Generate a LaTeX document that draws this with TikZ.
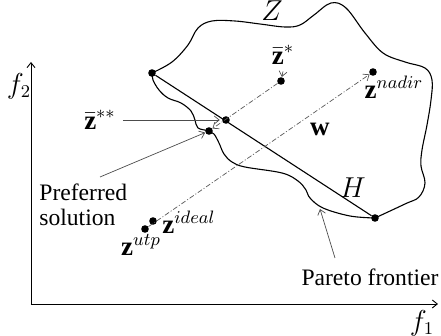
\documentclass[tikz,border=0pt]{standalone}
\usepackage{fontspec}
\setmainfont{Liberation Serif}
\usetikzlibrary{arrows.meta}

\begin{document}
\begin{tikzpicture}[x=0.5pt,y=-0.5pt,
  font=\fontsize{11.8}{12.5}\selectfont,
  mat/.style={font=\fontsize{13.5}{15}\selectfont},
  punto/.style={circle,fill,inner sep=0pt,minimum size=3.8pt},
  borde/.style={line width=0.55pt},
  guia/.style={gray!70!black,line width=0.35pt,
    dash pattern=on 2.5pt off 1pt on 0.5pt off 1pt,
    -{Straight Barb[length=2.5pt,width=4pt]}},
  flecha/.style={gray!60!black,line width=0.35pt,
    -{Straight Barb[length=2.5pt,width=4pt]}}]
\useasboundingbox (0,0) rectangle (441,336);

% Ejes
\coordinate (O) at (31,304);
\coordinate (ejey) at (31,62);
\coordinate (ejex) at (438,304);
\draw[flecha,black,line width=0.45pt] (O) -- (ejey);
\draw[flecha,black,line width=0.45pt] (O) -- (ejex);
\node[mat] (f2) at (19,86) {$f_2$};
\node[mat] (f1) at (422,323) {$f_1$};

% Region Z (borde superior)
\draw[borde,smooth,tension=0.6] plot coordinates {
  (152,73) (172,62) (188,45) (198,28) (212,21) (235,21) (260,24)
  (285,27) (300,25) (314,15) (331,3) (346,8) (365,33) (383,53)
  (405,62) (425,68) (432,80) (431,100) (427,125) (422,150)
  (421,166) (425,183) (419,197) (405,204) (375,218)};

% Frontera de Pareto
\draw[borde,smooth,tension=0.6] plot coordinates {
  (375,218) (350,216) (323,208) (310,198) (306,190) (298,181)
  (282,173) (245,167) (232,162) (224,154) (219,143) (214,134)
  (209,131) (198,128) (195,120) (191,111) (181,103) (168,98)
  (159,90) (153,80) (152,73)};

% Puntos
\node[punto] (A) at (152,73) {};
\node[punto] (B) at (375,218) {};
\node[punto] (Hpt) at (226,120) {};
\node[punto] (P) at (209,131) {};
\node[punto] (zs) at (281,81) {};
\node[punto] (nadir) at (373,72) {};
\node[punto] (ideal) at (153,221) {};
\node[punto] (utp) at (145,229) {};

% Hiperplano H
\draw[borde] (A) -- (B);

% Direcciones w
\draw[guia] (utp) -- (nadir);
\draw[guia] (zs) -- (P);

% Etiquetas
\node[mat] (Zlbl) at (272,11) {$Z$};
\node[mat] (Hlbl) at (353,188) {$H$};
\node[mat] (wlbl) at (320,129) {$\mathbf{w}$};
\node[mat] (lzs) at (283,55) {$\bar{\mathbf{z}}^{*}$};
\node[mat] (lzss) at (100,120) {$\bar{\mathbf{z}}^{**}$};
\node[mat] (lnadir) at (394,87) {$\mathbf{z}^{nadir}$};
\node[mat] (lideal) at (189,222) {$\mathbf{z}^{ideal}$};
\node[mat] (lutp) at (141,245) {$\mathbf{z}^{utp}$};
\node[align=left,anchor=west,inner sep=0pt] (lpref) at (39,205) {Preferred\\solution};
\node (lpareto) at (370,277) {Pareto frontier};

% Flechas de las etiquetas
\coordinate (cpref) at (100,177);
\coordinate (cpareto) at (335,258);
\coordinate (pf) at (320,209);
\draw[flecha,shorten >=1pt] (lzss.east) -- (Hpt);
\draw[flecha] (lzs.south) -- (zs);
\draw[flecha] (cpref) -- (P);
\draw[flecha] (cpareto) -- (pf);
\end{tikzpicture}
\end{document}
